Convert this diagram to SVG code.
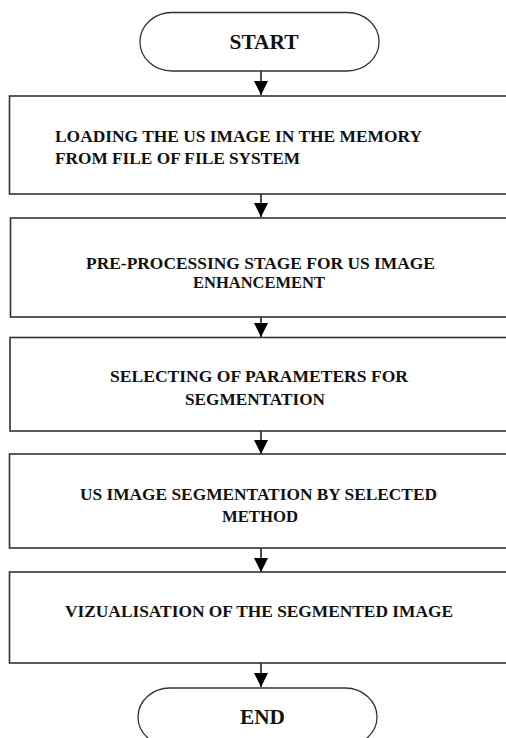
<svg xmlns="http://www.w3.org/2000/svg" width="506" height="738" viewBox="0 0 506 738">
<defs>
<style>
.box{fill:#fff;stroke:#333;stroke-width:1.6}
.term{fill:#fff;stroke:#333;stroke-width:1.3}
.t{font-family:"Liberation Serif","Times New Roman",serif;font-weight:bold;font-size:17px;fill:#111}
.big{font-size:21px}
.c{text-anchor:middle}
.ln{stroke:#111;stroke-width:1.5;fill:none}
</style>
<marker id="ah" viewBox="0 0 14 16" refX="14" refY="7" markerWidth="14" markerHeight="16" markerUnits="userSpaceOnUse" orient="auto">
<path d="M0,0 L14,7 L0,14 Z" fill="#000"/>
</marker>
</defs>
<rect width="506" height="738" fill="#fff"/>
<g id="connectors">
<line class="ln" x1="261" y1="71" x2="261" y2="95" marker-end="url(#ah)"/>
<line class="ln" x1="261" y1="194" x2="261" y2="217" marker-end="url(#ah)"/>
<line class="ln" x1="261" y1="317" x2="261" y2="337" marker-end="url(#ah)"/>
<line class="ln" x1="261" y1="431" x2="261" y2="454" marker-end="url(#ah)"/>
<line class="ln" x1="261" y1="548" x2="261" y2="572" marker-end="url(#ah)"/>
<line class="ln" x1="261" y1="663" x2="261" y2="687" marker-end="url(#ah)"/>
</g>
<g id="start">
<rect class="term" x="140" y="12.5" width="239" height="58.5" rx="32" ry="29"/>
<text class="t c big" x="264" y="49" textLength="69" lengthAdjust="spacingAndGlyphs">START</text>
</g>
<g id="n1">
<rect class="box" x="9.5" y="96" width="520" height="98"/>
<text class="t" x="55" y="141.5" textLength="367" lengthAdjust="spacingAndGlyphs">LOADING THE US IMAGE IN THE MEMORY</text>
<text class="t" x="55" y="164" textLength="245" lengthAdjust="spacingAndGlyphs">FROM FILE OF FILE SYSTEM</text>
</g>
<g id="n2">
<rect class="box" x="10.5" y="218" width="520" height="99"/>
<text class="t c" x="260.5" y="269" textLength="349" lengthAdjust="spacingAndGlyphs">PRE-PROCESSING STAGE FOR US IMAGE</text>
<text class="t c" x="259" y="288" textLength="132" lengthAdjust="spacingAndGlyphs">ENHANCEMENT</text>
</g>
<g id="n3">
<rect class="box" x="10" y="337.5" width="520" height="93.5"/>
<text class="t c" x="259" y="382" textLength="298" lengthAdjust="spacingAndGlyphs">SELECTING OF PARAMETERS FOR</text>
<text class="t c" x="255" y="405" textLength="140" lengthAdjust="spacingAndGlyphs">SEGMENTATION</text>
</g>
<g id="n4">
<rect class="box" x="9.5" y="454" width="520" height="94"/>
<text class="t c" x="258.5" y="500" textLength="357" lengthAdjust="spacingAndGlyphs">US IMAGE SEGMENTATION BY SELECTED</text>
<text class="t c" x="260" y="522" textLength="76" lengthAdjust="spacingAndGlyphs">METHOD</text>
</g>
<g id="n5">
<rect class="box" x="9.5" y="572" width="520" height="91"/>
<text class="t c" x="259" y="616.5" textLength="388" lengthAdjust="spacingAndGlyphs">VIZUALISATION OF THE SEGMENTED IMAGE</text>
</g>
<g id="end">
<rect class="term" x="138" y="688" width="239" height="58" rx="32" ry="29"/>
<text class="t c big" x="262.5" y="724" textLength="45" lengthAdjust="spacingAndGlyphs">END</text>
</g>
</svg>
